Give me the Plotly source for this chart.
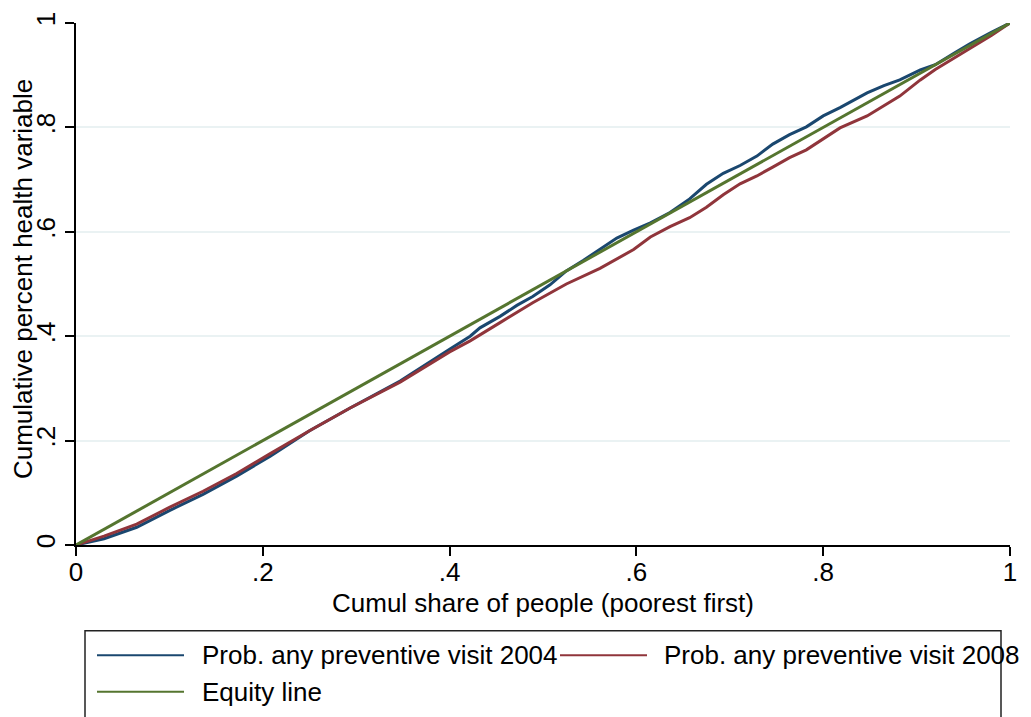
import plotly.graph_objects as go

# ---- data ----
share_x_2004 = [0, 0.03, 0.065, 0.1, 0.136, 0.172, 0.208, 0.25, 0.293, 0.347, 0.4, 0.422,
                0.4325, 0.454, 0.472, 0.489, 0.5075, 0.525, 0.543, 0.561, 0.579, 0.597,
                0.615, 0.636, 0.657, 0.675, 0.693, 0.711, 0.729, 0.746, 0.764, 0.782,
                0.8, 0.818, 0.847, 0.865, 0.882, 0.904, 0.92, 0.94, 0.957, 0.98, 1]
conc_2004 = [0, 0.012, 0.034, 0.066, 0.097, 0.132, 0.170, 0.219, 0.262, 0.314, 0.375, 0.400,
             0.416, 0.438, 0.459, 0.476, 0.4985, 0.525, 0.545, 0.567, 0.588, 0.603,
             0.617, 0.637, 0.663, 0.691, 0.712, 0.727, 0.745, 0.768, 0.786, 0.801,
             0.822, 0.838, 0.866, 0.880, 0.891, 0.910, 0.920, 0.942, 0.960, 0.982, 1]

share_x_2008 = [0, 0.03, 0.065, 0.1, 0.136, 0.172, 0.208, 0.25, 0.293, 0.347, 0.4, 0.422,
                0.454, 0.489, 0.525, 0.561, 0.597, 0.615, 0.636, 0.657, 0.675, 0.693,
                0.711, 0.729, 0.746, 0.764, 0.782, 0.8, 0.818, 0.847, 0.882, 0.904,
                0.92, 0.957, 0.98, 1]
conc_2008 = [0, 0.017, 0.040, 0.072, 0.103, 0.137, 0.175, 0.219, 0.262, 0.312, 0.370, 0.391,
             0.426, 0.464, 0.500, 0.530, 0.566, 0.590, 0.610, 0.627, 0.647, 0.671,
             0.692, 0.707, 0.724, 0.742, 0.757, 0.778, 0.799, 0.822, 0.860, 0.891,
             0.911, 0.951, 0.976, 1]

equity_x = [0, 1]
equity_y = [0, 1]

tick_vals = [0, 0.2, 0.4, 0.6, 0.8, 1]
tick_text = ["0", ".2", ".4", ".6", ".8", "1"]

series_names = ["Prob. any preventive visit 2004", "Prob. any preventive visit 2008", "Equity line"]
series_colors = ["#1a476f", "#90353b", "#55752f"]

x_title = "Cumul share of people (poorest first)"
y_title = "Cumulative percent health variable"

# ---- figure geometry (pixels) ----
W, H = 1031, 717
L, R, T, B = 76, 1010, 15, 545


def px(x):
    return (x - L) / (R - L)


def py(y):
    return (B - y) / (B - T)


FONT = "Liberation Sans, Arial, Helvetica, sans-serif"
FS = 26

fig = go.Figure()
fig.add_trace(go.Scatter(x=share_x_2004, y=conc_2004, mode="lines", name=series_names[0],
                         line=dict(color=series_colors[0], width=3), cliponaxis=False,
                         showlegend=False))
fig.add_trace(go.Scatter(x=share_x_2008, y=conc_2008, mode="lines", name=series_names[1],
                         line=dict(color=series_colors[1], width=3), cliponaxis=False,
                         showlegend=False))
fig.add_trace(go.Scatter(x=equity_x, y=equity_y, mode="lines", name=series_names[2],
                         line=dict(color=series_colors[2], width=3), cliponaxis=False,
                         showlegend=False))

axis_common = dict(range=[0, 1], tickvals=tick_vals, ticktext=tick_text,
                   showline=True, linecolor="black", linewidth=1.5,
                   ticks="outside", ticklen=9, tickwidth=1.5, tickcolor="black",
                   tickfont=dict(family=FONT, size=FS, color="black"),
                   zeroline=False, fixedrange=True)

fig.update_xaxes(**axis_common, showgrid=False, ticklabelstandoff=-6)
fig.update_yaxes(**axis_common, showgrid=True, gridcolor="#eaf2f3", gridwidth=2,
                 tickangle=-90)

annotations = [
    dict(text=x_title, x=0.5, y=py(604), xref="paper", yref="paper",
         xanchor="center", yanchor="middle", showarrow=False,
         font=dict(family=FONT, size=FS, color="black")),
    dict(text=y_title, x=px(23), y=py(275), xref="paper", yref="paper",
         xanchor="center", yanchor="middle", showarrow=False, textangle=-90,
         font=dict(family=FONT, size=FS, color="black")),
]

shapes = [
    dict(type="rect", xref="paper", yref="paper", x0=px(85), x1=px(1001), y0=py(632), y1=py(730),
         line=dict(color="#222222", width=1.5), fillcolor="rgba(0,0,0,0)", layer="above"),
]

# legend entries: (series index, line x0, line x1, y, text x)
legend_layout = [(0, 97, 184, 657, 200), (1, 560, 647, 657, 662), (2, 97, 184, 694, 200)]
for idx, lx0, lx1, ly, tx in legend_layout:
    shapes.append(dict(type="line", xref="paper", yref="paper", x0=px(lx0), x1=px(lx1),
                       y0=py(ly), y1=py(ly), line=dict(color=series_colors[idx], width=2)))
    annotations.append(dict(text=series_names[idx], x=px(tx), y=py(ly), xref="paper", yref="paper",
                            xanchor="left", yanchor="middle", showarrow=False,
                            font=dict(family=FONT, size=FS, color="black")))

fig.update_layout(width=W, height=H, margin=dict(l=L, r=W - R, t=T, b=H - B),
                  paper_bgcolor="white", plot_bgcolor="white",
                  annotations=annotations, shapes=shapes, showlegend=False)

fig.write_html("out.html", config={"displayModeBar": False})
